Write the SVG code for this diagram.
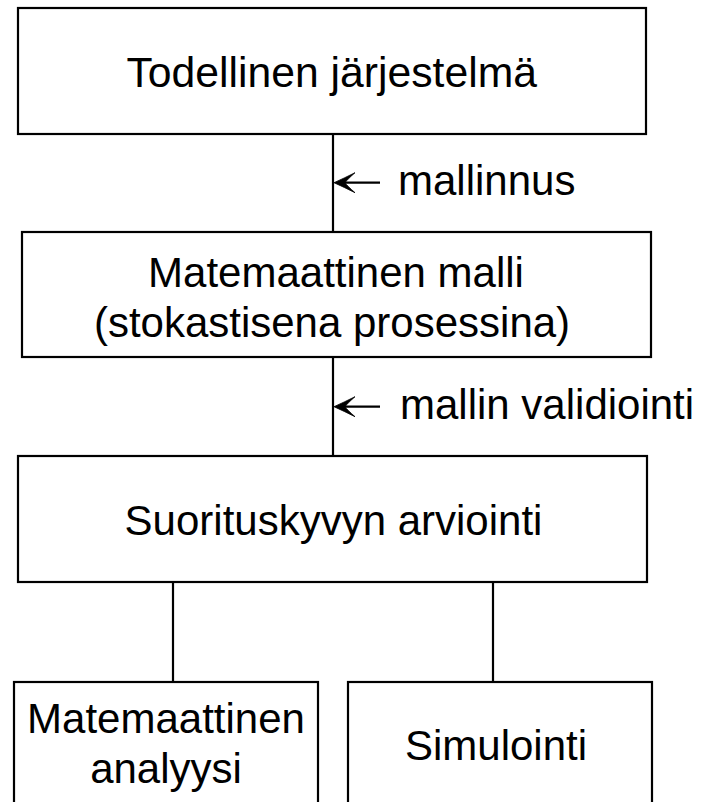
<svg xmlns="http://www.w3.org/2000/svg" width="703" height="802" viewBox="0 0 703 802">
<style>
.box{fill:#fff;stroke:#000;stroke-width:2.2}
.t{font-family:"Liberation Sans",Arial,sans-serif;font-size:42px;fill:#000}
.c{text-anchor:middle}
.ln{stroke:#000;stroke-width:2.2;fill:none}
.ah{fill:#000;stroke:#000;stroke-width:0.8;stroke-linejoin:miter}
</style>
<defs>
<path id="arrowhead" class="ah" d="M0,0 Q10,-4.5 21,-10 Q13,-3 11,0 Q13,3 21,10 Q10,4.5 0,0 Z"/>
</defs>
<rect width="703" height="802" fill="#fff"/>
<g id="connectors">
<line class="ln" x1="333" y1="134" x2="333" y2="232"/>
<line class="ln" x1="333" y1="357" x2="333" y2="456"/>
<line class="ln" x1="173" y1="582" x2="173" y2="682"/>
<line class="ln" x1="493" y1="582" x2="493" y2="682"/>
<line class="ln" x1="380" y1="182.7" x2="340" y2="182.7"/>
<use href="#arrowhead" x="334" y="182.7"/>
<line class="ln" x1="380" y1="406.7" x2="340" y2="406.7"/>
<use href="#arrowhead" x="334" y="406.7"/>
<text class="t" x="398" y="195">mallinnus</text>
<text class="t" x="400" y="419">mallin validiointi</text>
</g>
<g id="n1">
<rect class="box" x="18" y="8" width="628" height="126"/>
<text class="t c" x="331.7" y="87" style="font-size:42.7px">Todellinen järjestelmä</text>
</g>
<g id="n2">
<rect class="box" x="22" y="232" width="629" height="125"/>
<text class="t c" x="336" y="287">Matemaattinen malli</text>
<text class="t c" x="332" y="337">(stokastisena prosessina)</text>
</g>
<g id="n3">
<rect class="box" x="18" y="456" width="629" height="126"/>
<text class="t c" x="333.5" y="535">Suorituskyvyn arviointi</text>
</g>
<g id="n4">
<rect class="box" x="14" y="682" width="304" height="150"/>
<text class="t c" x="166" y="733">Matemaattinen</text>
<text class="t c" x="166" y="783">analyysi</text>
</g>
<g id="n5">
<rect class="box" x="348" y="682" width="304" height="150"/>
<text class="t c" x="496" y="760">Simulointi</text>
</g>
</svg>
